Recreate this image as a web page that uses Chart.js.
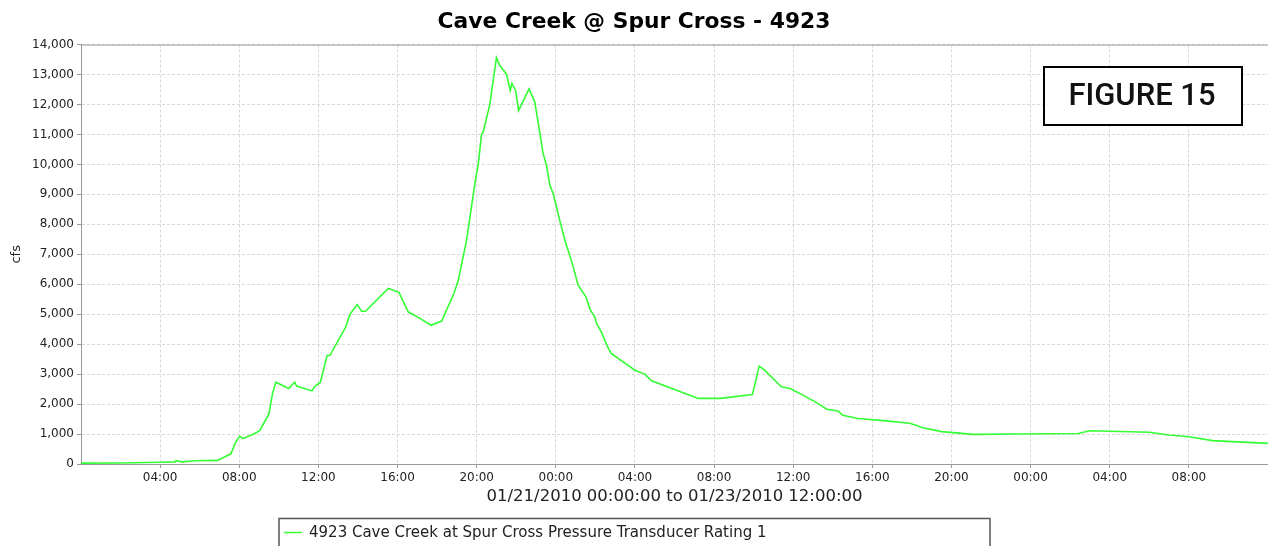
<!DOCTYPE html>
<html>
<head>
<meta charset="utf-8">
<script src="https://cdn.jsdelivr.net/npm/chart.js@4.4.1/dist/chart.umd.min.js"></script>
<style>
  html, body { margin: 0; padding: 0; background: #fff; }
</style>
</head>
<body>
<canvas id="myChart" width="1268" height="546"></canvas>
<script>
// hours after 01/21/2010 00:00 and flow in cfs
var hours = [0, 2, 4, 4.75, 4.8, 5.1, 5.75, 6.9, 7.58, 7.8, 8.03, 8.17, 8.79, 9.04, 9.5, 9.68, 9.85,
  10.5, 10.8, 10.9, 11.68, 11.8, 12.1, 12.44, 12.58, 13.37, 13.6, 13.96, 14.18, 14.38, 15.53, 16.07,
  16.54, 17.13, 17.69, 18.23, 18.85, 19.07, 19.49, 19.91, 20.08, 20.25, 20.33, 20.67, 21.0, 21.17,
  21.5, 21.7, 21.78, 21.97, 22.12, 22.65, 22.94, 23.36, 23.53, 23.7, 23.87, 24.2, 24.46, 24.7, 24.88,
  25.13, 25.52, 25.75, 25.97, 26.06, 26.3, 26.6, 26.8, 28.0, 28.5, 28.84, 31.2, 32.3, 33.94, 34.28,
  34.56, 35.4, 35.83, 36.5, 37.2, 37.7, 38.27, 38.5, 39.28, 40.7, 41.9, 42.56, 43.5, 45.1, 47.4,
  50.4, 51.0, 54.0, 55.0, 56.0, 57.2, 60];
var cfs = [30, 35, 60, 70, 110, 70, 110, 120, 340, 710, 930, 845, 1020, 1120, 1670, 2350, 2730,
  2520, 2730, 2600, 2440, 2580, 2730, 3620, 3620, 4560, 5000, 5320, 5100, 5100, 5860, 5730,
  5080, 4860, 4630, 4770, 5690, 6130, 7470, 9360, 10020, 11020, 11080, 12020, 13560, 13300,
  13020, 12470, 12700, 12470, 11800, 12520, 12080, 10360, 9970, 9300, 9020, 8130, 7470, 6970, 6580,
  5970, 5580, 5130, 4910, 4690, 4410, 3930, 3690, 3130, 3000, 2780, 2190, 2190, 2320, 3270,
  3130, 2580, 2520, 2300, 2040, 1830, 1770, 1630, 1520, 1440, 1360, 1210, 1080, 990, 1000,
  1020, 1110, 1060, 970, 910, 780, 690];

var xTickHours = [4, 8, 12, 16, 20, 24, 28, 32, 36, 40, 44, 48, 52, 56];
var xTickLabels = ['04:00', '08:00', '12:00', '16:00', '20:00', '00:00', '04:00', '08:00',
  '12:00', '16:00', '20:00', '00:00', '04:00', '08:00'];

var seriesName = '4923 Cave Creek at Spur Cross Pressure Transducer Rating 1';
var figureLabel = 'FIGURE 15';

var pts = hours.map(function (h, i) { return {x: h, y: cfs[i]}; });

// plot outline, FIGURE box and the boxed legend under the axis
var extras = {
  id: 'extras',
  afterDraw: function (chart) {
    var c = chart.ctx, a = chart.chartArea;
    c.save();
    c.strokeStyle = '#999';
    c.lineWidth = 1;
    c.beginPath();
    c.moveTo(a.left, a.top + 0.5);
    c.lineTo(a.right, a.top + 0.5);
    c.stroke();

    // figure label
    c.fillStyle = '#fff';
    c.fillRect(1044, 67, 198, 58);
    c.strokeStyle = '#000';
    c.lineWidth = 2;
    c.strokeRect(1044, 67, 198, 58);
    c.fillStyle = '#111';
    c.font = '500 31px Roboto';
    c.textAlign = 'center';
    c.textBaseline = 'middle';
    c.fillText(figureLabel, 1142, 97);

    // legend
    c.strokeStyle = '#555';
    c.lineWidth = 1.5;
    c.strokeRect(279, 518.5, 711, 40);
    c.strokeStyle = '#33ff33';
    c.lineWidth = 1.5;
    c.beginPath();
    c.moveTo(284, 532.5);
    c.lineTo(302, 532.5);
    c.stroke();
    c.fillStyle = '#222';
    c.font = '15px "DejaVu Sans"';
    c.textAlign = 'left';
    c.fillText(seriesName, 309, 533);
    c.restore();
  }
};

var ctx1 = document.getElementById('myChart').getContext('2d');
var mychart1 = new Chart(ctx1, {
  type: 'line',
  data: {
    datasets: [{
      label: seriesName,
      data: pts,
      borderColor: '#33ff33',
      borderWidth: 1.6,
      pointRadius: 0,
      tension: 0,
      fill: false
    }]
  },
  options: {
    responsive: false,
    animation: false,
    layout: { padding: 0 },
    plugins: {
      legend: { display: false },
      tooltip: { enabled: false },
      title: {
        display: true,
        text: 'Cave Creek @ Spur Cross - 4923',
        color: '#000',
        font: { family: 'DejaVu Sans', size: 21.8, weight: 'bold' },
        padding: { top: 9.4, bottom: 9 }
      }
    },
    scales: {
      x: {
        type: 'linear',
        min: 0,
        max: 60,
        afterBuildTicks: function (s) {
          s.ticks = xTickHours.map(function (v) { return {value: v}; });
        },
        afterFit: function (s) { s.height = 82; },
        ticks: {
          autoSkip: false,
          maxRotation: 0,
          padding: 3,
          color: '#222',
          font: { family: 'DejaVu Sans', size: 12 },
          callback: function (v) { return xTickLabels[xTickHours.indexOf(v)]; }
        },
        grid: { color: '#d8d8d8', tickLength: 4, tickColor: '#999' },
        border: { color: '#999', width: 1, dash: [3, 2] },
        title: {
          display: true,
          text: '01/21/2010 00:00:00 to 01/23/2010 12:00:00',
          color: '#222',
          font: { family: 'DejaVu Sans', size: 16.5 },
          padding: { top: 0, bottom: 39 }
        }
      },
      y: {
        min: 0,
        max: 14000,
        afterFit: function (s) { s.width = 81; },
        ticks: {
          stepSize: 1000,
          padding: 3,
          color: '#222',
          font: { family: 'DejaVu Sans', size: 12 },
          callback: function (v) { return v.toLocaleString('en-US'); }
        },
        grid: { color: '#d8d8d8', tickLength: 4, tickColor: '#999' },
        border: { color: '#999', width: 1, dash: [3, 2] },
        title: {
          display: true,
          text: 'cfs',
          color: '#222',
          font: { family: 'DejaVu Sans', size: 13 },
          padding: { top: 9, bottom: 0 }
        }
      }
    }
  },
  plugins: [extras]
});
</script>
</body>
</html>
